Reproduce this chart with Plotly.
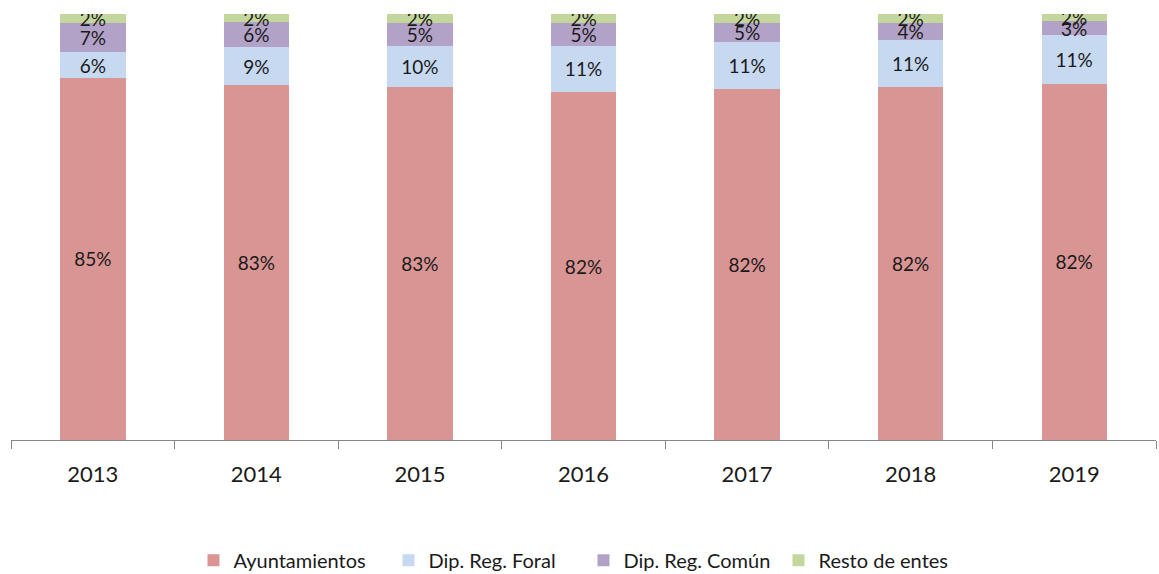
import plotly.graph_objects as go

# Shares by year; each year's stack is normalised to 100%
years = ["2013", "2014", "2015", "2016", "2017", "2018", "2019"]
ayuntamientos = [85.0, 83.4, 82.8, 81.6, 82.4, 82.0, 82.0]
dip_foral = [6.0, 8.8, 9.8, 11.0, 11.0, 10.9, 11.1]
dip_comun = [7.0, 5.9, 5.2, 5.2, 4.6, 4.1, 3.2]
resto = [2.0, 1.95, 2.2, 2.2, 2.0, 2.0, 1.7]

series = [
    ("Ayuntamientos", ayuntamientos, "#D99594"),
    ("Dip. Reg. Foral", dip_foral, "#C6D9F1"),
    ("Dip. Reg. Común", dip_comun, "#B3A2C7"),
    ("Resto de entes", resto, "#C3D69B"),
]

FONT = "Lato"

fig = go.Figure()
for name, vals, color in series:
    fig.add_trace(go.Bar(
        name=name,
        x=years,
        y=vals,
        marker=dict(color=color, line=dict(width=0)),
        text=[f"{v:.0f}%" for v in vals],
        texttemplate="%{text}",
        textposition="inside",
        insidetextanchor="middle",
        constraintext="none",
        textfont=dict(family=FONT, size=19, color="#1a1a1a"),
        hoverinfo="skip",
    ))

fig.update_layout(
    barmode="stack",
    barnorm="percent",
    bargap=0.6,
    width=1159,
    height=574,
    margin=dict(l=11, r=3, t=14, b=134, autoexpand=False),
    plot_bgcolor="white",
    paper_bgcolor="white",
    font=dict(family=FONT, color="#1a1a1a"),
    legend=dict(
        orientation="h",
        x=0.5, xanchor="center",
        y=-0.282, yanchor="middle",
        font=dict(family=FONT, size=20, color="#1a1a1a"),
        entrywidth=150,
        itemwidth=30,
        traceorder="normal",
    ),
    xaxis=dict(
        type="category",
        automargin=False,
        showline=True,
        linecolor="#868686",
        linewidth=1,
        ticks="outside",
        tickson="boundaries",
        ticklen=8,
        tickcolor="#868686",
        tickfont=dict(family=FONT, size=22, color="#1a1a1a"),
        ticklabelstandoff=15,
        showgrid=False,
    ),
    yaxis=dict(
        range=[0, 100],
        visible=False,
        automargin=False,
        showgrid=False,
        zeroline=False,
    ),
)

fig.write_html("out.html")
